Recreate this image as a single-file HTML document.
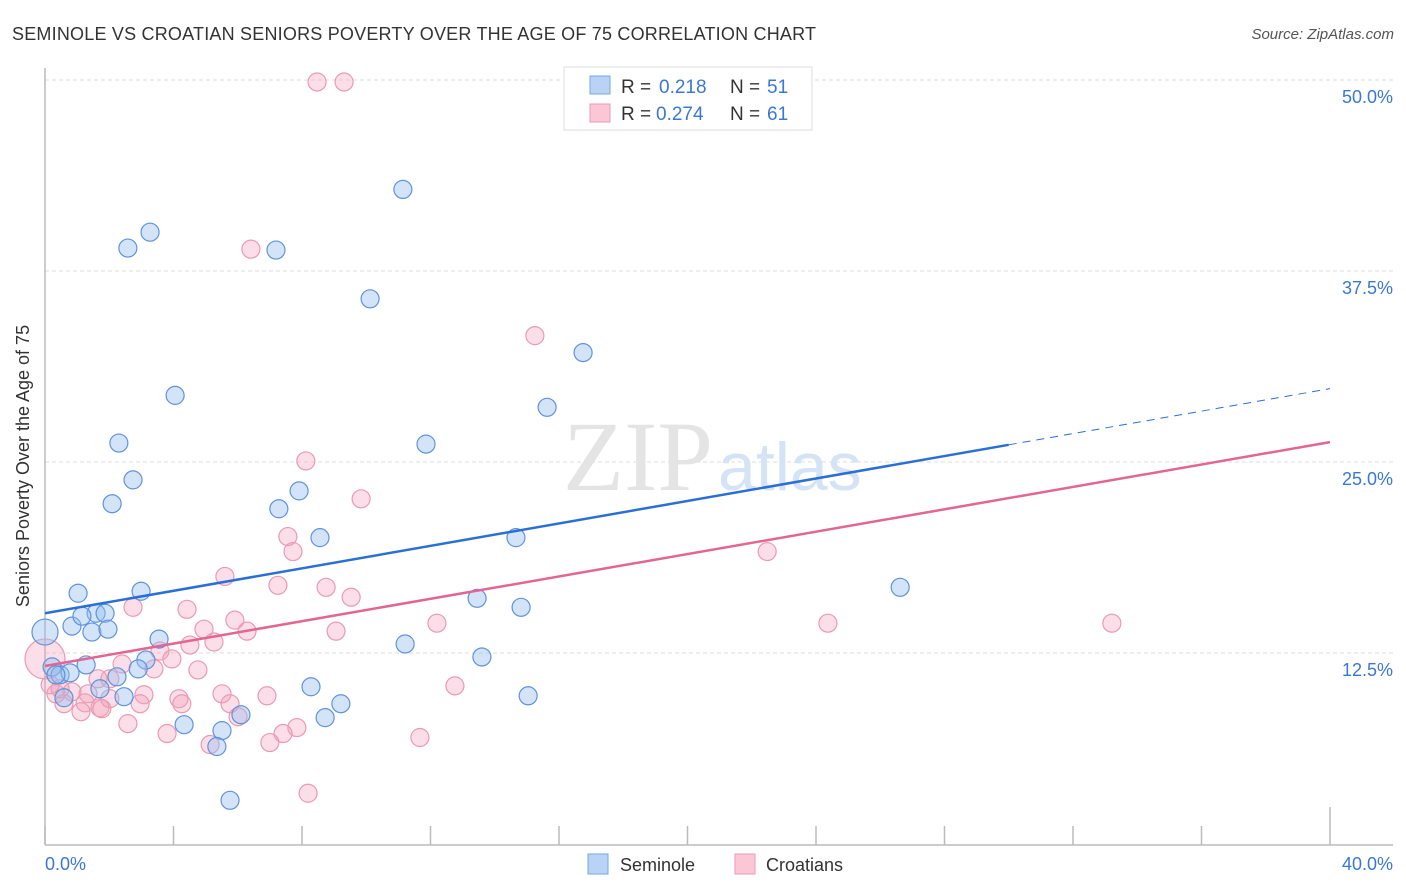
<!DOCTYPE html>
<html><head><meta charset="utf-8">
<style>
body{margin:0;background:#fff;font-family:"Liberation Sans",sans-serif;}
svg{display:block}
</style></head>
<body>
<svg id="chart" width="1406" height="892" xmlns="http://www.w3.org/2000/svg">
<text x="12" y="40" font-size="18" fill="#333" textLength="804">SEMINOLE VS CROATIAN SENIORS POVERTY OVER THE AGE OF 75 CORRELATION CHART</text>
<text x="1394" y="39" font-size="15" fill="#555" text-anchor="end" font-style="italic">Source: ZipAtlas.com</text>
<g id="grid"></g>
<g>
<text x="713" y="490" font-size="100" font-family="Liberation Serif,serif" fill="#e4e4e4" text-anchor="end">ZIP</text>
<text x="718" y="490" font-size="68" fill="#d4e3f5">atlas</text>
</g>
<line x1="45" y1="68" x2="45" y2="845" stroke="#bbb" stroke-width="1.5"/>
<line x1="45" y1="845" x2="1393" y2="845" stroke="#bbb" stroke-width="1.5"/>
<text x="19" y="456" font-size="18" fill="#333" text-anchor="middle" transform="rotate(-90 29 456)">Seniors Poverty Over the Age of 75</text>
<text x="45" y="870" font-size="18" fill="#3a78d4">0.0%</text>
<text x="1393" y="870" font-size="18" fill="#3a78d4" text-anchor="end">40.0%</text>
<g id="ticks"></g>
<g id="pts"></g>
<g id="lines"></g>
<g>
<rect x="564" y="67" width="248" height="63" fill="#fff" stroke="#ddd"/>
<rect x="590" y="76" width="20" height="18" fill="#b8d3f5" stroke="#7aa7e0"/>
<rect x="590" y="104" width="20" height="18" fill="#fbc6d6" stroke="#ee9ab5"/>
<text x="621" y="93" font-size="19" fill="#333">R =</text>
<text x="659" y="93" font-size="19" fill="#3a78d4">0.218</text>
<text x="730" y="93" font-size="19" fill="#333">N =</text>
<text x="767" y="93" font-size="19" fill="#3a78d4">51</text>
<text x="621" y="120" font-size="19" fill="#333">R =</text>
<text x="656" y="120" font-size="19" fill="#3a78d4">0.274</text>
<text x="730" y="120" font-size="19" fill="#333">N =</text>
<text x="767" y="120" font-size="19" fill="#3a78d4">61</text>
</g>
<g>
<rect x="588" y="854" width="20" height="20" fill="#b8d3f5" stroke="#7aa7e0"/>
<text x="620" y="871" font-size="18" fill="#333">Seminole</text>
<rect x="735" y="854" width="20" height="20" fill="#fbc6d6" stroke="#ee9ab5"/>
<text x="766" y="871" font-size="18" fill="#333">Croatians</text>
</g>
</svg>
<script>
const yTicks=[12.5,25,37.5,50];
const yTickLabels=["12.5%","25.0%","37.5%","50.0%"];
const xTicks=[0,4,8,12,16,20,24,28,32,36,40];
const semX=[0,11.14,3.27,2.58,7.19,10.12,16.75,4.05,15.63,2.30,11.86,2.74,2.09,7.91,7.28,8.56,14.66,1.03,2.99,13.45,14.82,26.62,0.84,1.59,1.87,1.15,1.46,1.96,3.55,11.21,13.60,0.22,1.28,3.14,2.90,0.47,0.78,2.24,0.59,1.71,2.46,8.28,9.21,15.04,4.33,5.51,6.10,8.72,5.35,5.76,0.34];
const semY=[13.87,42.84,40.04,39.0,38.87,35.68,32.16,29.36,28.58,26.24,26.17,23.83,22.27,23.11,21.94,20.05,20.05,16.41,16.54,16.08,15.49,16.80,14.26,15.10,15.10,14.91,13.87,14.06,13.41,13.09,12.24,11.59,11.72,12.04,11.46,11.07,11.20,10.94,9.57,10.16,9.64,10.29,9.18,9.70,7.81,7.42,8.46,8.27,6.38,2.86,11.07];
const croX=[8.47,9.31,6.41,15.25,8.12,9.84,7.56,7.72,22.48,5.60,7.25,8.75,9.53,2.74,4.42,5.91,12.20,24.37,33.21,4.95,6.29,5.26,9.06,4.51,3.58,3.95,0,2.40,3.39,4.76,1.65,2.02,0.34,0.84,1.34,3.08,5.51,4.17,6.91,12.76,0.59,1.71,1.25,2.96,4.26,5.76,1.12,1.77,6.01,2.58,7.84,3.80,7.41,5.14,7.00,11.67,8.19,0.47,2.02,0.16];
const croY=[49.87,49.87,38.93,33.27,25.07,22.59,20.12,19.14,19.14,17.51,16.93,16.80,16.15,15.49,15.36,14.65,14.45,14.45,14.45,14.06,13.93,13.22,13.93,13.02,12.63,12.11,12.11,11.78,11.46,11.39,10.81,10.81,9.83,9.96,9.83,9.77,9.83,9.51,9.70,10.35,9.18,8.92,9.24,9.18,9.18,9.18,8.66,8.85,8.33,7.88,7.62,7.23,7.23,6.51,6.64,6.97,3.32,10.16,9.51,10.42];
const semTrend=[15.1,29.8];
const croTrend=[11.65,26.3];
const semSolidEnd=30;
const NS="http://www.w3.org/2000/svg";
const X=v=>45+v*32.125;
const Y=v=>844-v*15.28;
function mk(tag,attrs,parent){const e=document.createElementNS(NS,tag);for(const k in attrs)e.setAttribute(k,attrs[k]);parent.appendChild(e);return e;}
const grid=document.getElementById('grid');
yTicks.forEach((t,i)=>{
  const l=mk('line',{x1:45,x2:1393,y1:Y(t),y2:Y(t),stroke:'#ddd','stroke-dasharray':'4 3'},grid);
  
  
  const tx=mk('text',{x:1393,y:Y(t)+23,'font-size':18,fill:'#3a78d4','text-anchor':'end'},grid);
  tx.textContent=yTickLabels[i];
  
  
});
const tk=document.getElementById('ticks');
xTicks.forEach((t,i)=>{
  const l=mk('line',{x1:X(t),x2:X(t),y1:(i==xTicks.length-1?807:826),y2:845,stroke:'#bbb','stroke-width':1.5},tk);
  
  
});
const pts=document.getElementById('pts');
croX.forEach((v,i)=>{
  const r=(v===0)?20:9;
  const c=mk('circle',{cx:X(v),cy:Y(croY[i]),r:r,fill:'rgba(244,160,185,0.35)',stroke:'#eb9ab3','stroke-width':1.2},pts);
  
  
});
semX.forEach((v,i)=>{
  const r=(v===0)?13:9;
  const c=mk('circle',{cx:X(v),cy:Y(semY[i]),r:r,fill:'rgba(150,190,240,0.42)',stroke:'#5f93da','stroke-width':1.2},pts);
  
  
});
const ln=document.getElementById('lines');
const sAt=x=>semTrend[0]+(semTrend[1]-semTrend[0])*x/40;
let a=mk('line',{x1:X(0),y1:Y(sAt(0)),x2:X(semSolidEnd),y2:Y(sAt(semSolidEnd)),stroke:'#2a6fd6','stroke-width':2.5},ln);


let b=mk('line',{x1:X(semSolidEnd),y1:Y(sAt(semSolidEnd)),x2:X(40),y2:Y(sAt(40)),stroke:'#2a6fd6','stroke-width':1,'stroke-dasharray':'8 6'},ln);


let c=mk('line',{x1:X(0),y1:Y(croTrend[0]),x2:X(40),y2:Y(croTrend[1]),stroke:'#e26592','stroke-width':2.5},ln);


</script>
</body></html>
